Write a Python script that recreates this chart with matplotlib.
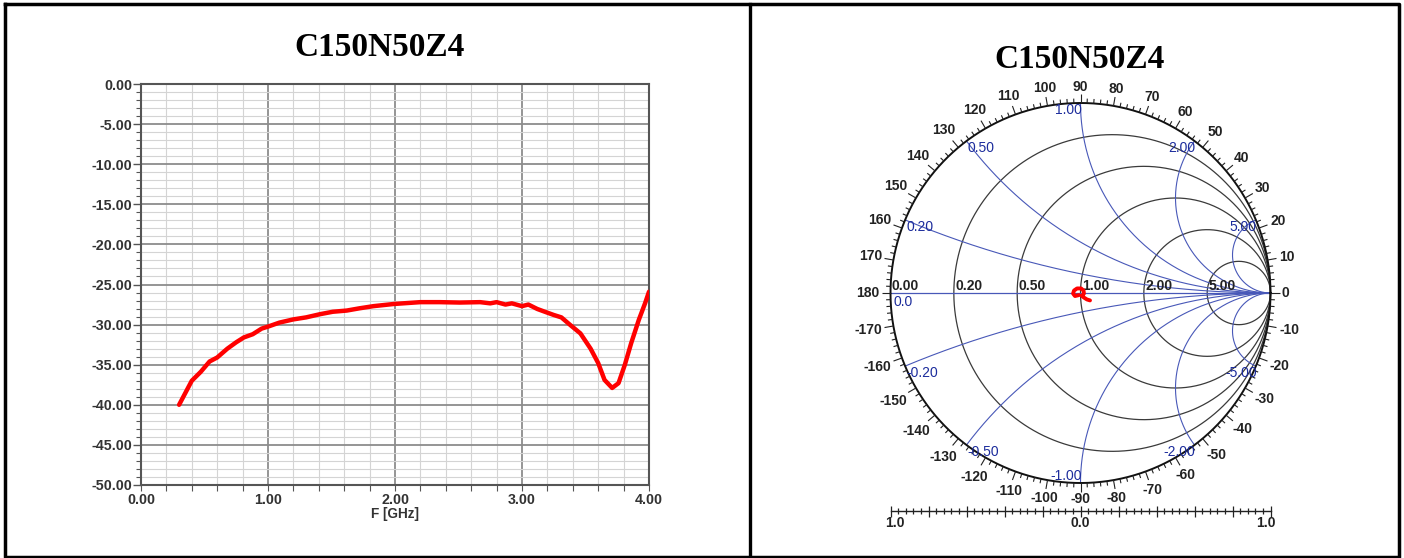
import numpy as np
import matplotlib
matplotlib.use('Agg')
import matplotlib.pyplot as plt
from matplotlib.lines import Line2D
from matplotlib.collections import LineCollection
from matplotlib.ticker import MultipleLocator, FixedLocator

plt.rcParams['axes.unicode_minus'] = False
plt.rcParams['font.family'] = ['Liberation Sans', 'DejaVu Sans']

# ---------------- data ----------------
title = "C150N50Z4"
x_label = "F [GHz]"
freq_ghz = [0.30, 0.40, 0.47, 0.54, 0.60, 0.68, 0.75, 0.81, 0.88, 0.95, 1.00,
            1.09, 1.20, 1.30, 1.41, 1.51, 1.62, 1.72, 1.83, 1.99, 2.20, 2.35,
            2.51, 2.67, 2.75, 2.80, 2.87, 2.92, 3.00, 3.05, 3.12, 3.18, 3.25,
            3.31, 3.38, 3.46, 3.54, 3.60, 3.65, 3.71, 3.76, 3.81, 3.86, 3.92,
            3.97, 4.00]
s11_db = [-40.0, -37.0, -35.9, -34.6, -34.1, -33.0, -32.2, -31.6, -31.2, -30.5,
          -30.25, -29.75, -29.35, -29.1, -28.7, -28.4, -28.25, -27.97, -27.7,
          -27.43, -27.2, -27.2, -27.25, -27.2, -27.35, -27.2, -27.5, -27.35,
          -27.7, -27.5, -28.05, -28.4, -28.8, -29.1, -30.05, -31.1, -33.0,
          -34.8, -36.9, -37.9, -37.3, -35.0, -32.3, -29.4, -27.3, -25.9]
x_ticks = [0, 1, 2, 3, 4]
y_ticks = [0, -5, -10, -15, -20, -25, -30, -35, -40, -45, -50]

# Smith chart trace (reflection coefficient, real / imaginary)
smith_re = [-0.008, -0.029, -0.039, -0.034, -0.018, 0.003, 0.016, 0.018,
            0.008, 0.018, 0.034, 0.050]
smith_im = [-0.011, -0.016, -0.003, 0.013, 0.024, 0.024, 0.013, -0.003,
            -0.016, -0.024, -0.034, -0.039]
r_circles = [0.2, 0.5, 1.0, 2.0, 5.0]
x_arcs = [0.2, 0.5, 1.0, 2.0, 5.0]
angle_labels = list(range(0, 181, 10)) + list(range(-10, -171, -10))
scale_labels = ["1.0", "0.0", "1.0"]

# ---------------- figure ----------------
W, H = 1404, 558
fig = plt.figure(figsize=(W / 100, H / 100), dpi=100)


def fx(px):
    return px / W


def fy(py):
    return 1 - py / H


LFS = 10.3   # left chart label size
SFS = 10.0   # smith label size

# ---- left chart ----
axl, axr, axt, axb = 141, 649, 84, 485
ax = fig.add_axes([fx(axl), fy(axb), (axr - axl) / W, (axb - axt) / H])
ax.plot(freq_ghz, s11_db, color='#ff0000', lw=3.2, solid_joinstyle='round',
        solid_capstyle='round', zorder=5)
ax.set_xlim(0, 4)
ax.set_ylim(-50, 0)
ax.xaxis.set_major_locator(FixedLocator(x_ticks))
ax.xaxis.set_minor_locator(MultipleLocator(0.2))
ax.yaxis.set_major_locator(FixedLocator(y_ticks))
ax.yaxis.set_minor_locator(MultipleLocator(1))
ax.set_xticklabels([f"{v:.2f}" for v in x_ticks])
ax.set_yticklabels([f"{v:.2f}" for v in y_ticks])
ax.grid(which='major', color='#8c8c8c', lw=1.3)
ax.grid(which='minor', color='#d4d4d4', lw=0.8)
ax.set_axisbelow(True)
for s in ax.spines.values():
    s.set_color('#555555')
    s.set_linewidth(1.5)
ax.tick_params(axis='y', which='major', length=6, width=1.0, color='#555555',
               pad=0.5, labelsize=LFS, labelcolor='#333333')
ax.tick_params(axis='y', which='minor', length=3.5, width=0.8, color='#555555')
ax.tick_params(axis='x', which='both', length=4, width=0.8, color='#555555',
               pad=1.5, labelsize=LFS, labelcolor='#333333')
for lab in ax.get_xticklabels() + ax.get_yticklabels():
    lab.set_fontweight('bold')
fig.text(fx((axl + axr) / 2), fy(514), x_label, ha='center', va='center',
         fontsize=LFS - 0.5, fontweight='bold', color='#333333')

fig.text(fx(380), fy(47), title, ha='center', va='center',
         fontfamily='Liberation Serif', fontweight='bold', fontsize=24)
fig.text(fx(1080), fy(60), title, ha='center', va='center',
         fontfamily='Liberation Serif', fontweight='bold', fontsize=24)

# ---- Smith chart ----
R = 190.0
cx, cy = 1080.5, 293.0
sx0, sx1, sy0, sy1 = 753, 1397, 6, 555
sax = fig.add_axes([fx(sx0), fy(sy1), (sx1 - sx0) / W, (sy1 - sy0) / H])
sax.set_xlim((sx0 - cx) / R, (sx1 - cx) / R)
sax.set_ylim((cy - sy1) / R, (cy - sy0) / R)
sax.axis('off')

blue_line = '#4858b8'
blue_text = '#1c2c9c'
dark = '#3a3a3a'

th = np.linspace(0, 2 * np.pi, 720)
for r in r_circles:
    c = r / (1 + r)
    rad = 1 / (1 + r)
    sax.plot(c + rad * np.cos(th), rad * np.sin(th), color=dark, lw=0.9)

rv = np.concatenate([[0], np.logspace(-3, 5, 800)])
for xv in x_arcs:
    for sg in (1, -1):
        z = rv + 1j * sg * xv
        g = (z - 1) / (z + 1)
        sax.plot(g.real, g.imag, color=blue_line, lw=0.8)
sax.plot([-1, 1], [0, 0], color=blue_line, lw=0.9)
sax.plot(np.cos(th), np.sin(th), color='#111111', lw=1.4)

# angle ticks
segs = []
for d in range(-180, 180, 2):
    t = np.radians(d)
    L = 9 if d % 10 == 0 else 4.5
    r0, r1 = 1.0, 1.0 + L / R
    segs.append([(r0 * np.cos(t), r0 * np.sin(t)), (r1 * np.cos(t), r1 * np.sin(t))])
sax.add_collection(LineCollection(segs, colors='#222222', linewidths=0.8))

em = SFS * 100 / 72
for d in angle_labels:
    s = str(d)
    w = sum(0.333 if ch == '-' else 0.556 for ch in s) * em
    t = np.radians(d)
    dist = R + 11 + 0.5 * w * abs(np.cos(t)) + 0.36 * em * abs(np.sin(t))
    sax.text(dist / R * np.cos(t), dist / R * np.sin(t), s, ha='center',
             va='center', fontsize=SFS, fontweight='bold', color='#222222')

# resistance labels on real axis
for r in [0.0] + r_circles:
    g = (r - 1) / (r + 1)
    sax.text(g + 1.5 / R, 0, f"{r:.2f}", ha='left', va='bottom', fontsize=SFS,
             fontweight='bold', color='#222222')
sax.text(-1 + 2.5 / R, -2 / R, "0.0", ha='left', va='top', fontsize=SFS,
         color=blue_text)

# reactance labels on outer circle
for xv in x_arcs:
    for sg in (1, -1):
        gr = (xv ** 2 - 1) / (xv ** 2 + 1)
        gi = sg * 2 * xv / (xv ** 2 + 1)
        ha = 'left' if gr < -1e-9 else 'right'
        va = 'bottom' if gi < -0.9 else 'top'
        sax.text(gr + 1 / R, gi, f"{sg * xv:.2f}",
                 ha=ha, va=va, fontsize=SFS, color=blue_text)

# trace
sax.plot(smith_re, smith_im, color='#ff0000', lw=2.8, solid_joinstyle='round',
         solid_capstyle='round', zorder=6)

# bottom scale
ys = (cy - 511) / R
sax.plot([-1, 1], [ys, ys], color='#222222', lw=1.0)
ticks = np.linspace(-1, 1, 51)
bsegs = []
for i, tv in enumerate(ticks):
    h = 5.5 if i % 5 == 0 else 3
    bsegs.append([(tv, ys - h / R), (tv, ys + h / R)])
sax.add_collection(LineCollection(bsegs, colors='#222222', linewidths=0.9))
for pos, s in zip([-0.975, 0.0, 0.975], scale_labels):
    sax.text(pos, (cy - 523) / R, s, ha='center', va='center', fontsize=SFS,
             fontweight='bold', color='#222222')

# ---- frame (table borders) ----
lw_b = 2.5


def fline(xs, ys_, lw):
    fig.add_artist(Line2D([fx(v) for v in xs], [fy(v) for v in ys_],
                          transform=fig.transFigure, color='black', lw=lw,
                          solid_capstyle='projecting'))


fline([5, 1399, 1399, 5, 5], [3.5, 3.5, 556.5, 556.5, 3.5], lw_b)
fline([750, 750], [3.5, 556.5], 2.4)

fig.savefig('out.png', dpi=100)
